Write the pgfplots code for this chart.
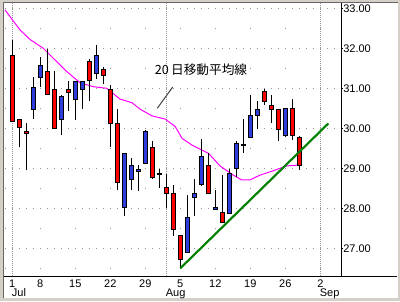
\documentclass[border=0pt]{standalone}
\usepackage{pgfplots}
\usepackage{pgfplotstable}
\pgfplotsset{compat=1.18}
\usepackage{fontspec}
\setmainfont{Liberation Sans}
\newfontfamily\jpfont{Noto Sans CJK JP}
\definecolor{framegray}{RGB}{212,208,200}
\definecolor{cred}{RGB}{255,0,0}
\definecolor{cblue}{RGB}{45,60,220}
\definecolor{cgreen}{RGB}{0,128,0}
\definecolor{cmag}{RGB}{255,0,255}
\definecolor{gridgray}{RGB}{150,150,150}

% red = falling day (open above close)
\pgfplotstableread{
i o h l c
0 31.81 32.21 30.18 30.18
1 30.21 30.21 29.52 30.02
2 29.92 30.12 28.97 29.86
5 31.42 31.97 30.82 30.85
6 30.97 31.42 30.00 30.00
8 30.97 31.18 30.42 30.89
11 31.67 31.74 30.67 31.19
13 31.47 31.53 31.10 31.32
14 30.97 31.09 29.52 30.12
15 30.12 30.48 28.47 28.65
20 29.52 29.68 28.74 28.77
22 28.52 28.87 28.02 28.37
23 28.37 28.58 27.31 27.47
24 27.31 27.31 26.50 26.71
28 29.08 29.38 28.37 28.37
30 27.90 28.84 27.65 27.65
36 30.92 30.97 30.57 30.67
37 30.57 30.82 30.14 30.47
38 30.47 30.47 29.67 29.97
40 30.50 30.72 29.70 29.82
41 29.77 29.81 28.97 29.07
}\redtab

% blue = rising day
\pgfplotstableread{
i o h l c
3 30.47 31.27 30.24 31.02
4 31.27 31.79 31.02 31.58
7 30.22 30.83 29.82 30.80
9 30.72 31.17 30.20 31.17
10 30.97 31.17 30.49 31.17
12 31.37 32.09 31.24 31.81
16 28.02 29.37 27.82 29.36
17 28.72 29.27 28.46 29.08
18 28.92 29.08 28.43 28.98
19 29.12 29.96 29.10 29.93
21 28.85 28.98 28.52 28.86
25 26.90 28.33 26.90 27.78
26 28.27 28.73 27.82 28.37
27 28.60 29.72 28.56 29.29
29 27.97 28.47 27.97 28.02
31 27.87 28.98 27.87 28.87
32 29.00 29.67 28.79 29.61
33 29.58 30.22 29.38 29.59
34 29.77 30.83 29.77 30.33
35 30.33 30.67 29.98 30.47
39 29.82 30.50 29.77 30.50
}\bluetab

% 20-day moving average
\pgfplotstableread{
i p
-1.04 32.96
1.10 32.46
2.53 32.22
4.43 32.00
5.86 31.75
7.77 31.42
9.67 31.14
11.57 31.04
13.49 31.00
15.39 30.73
17.10 30.64
18.24 30.48
19.96 30.31
21.86 30.23
23.29 30.04
24.24 29.75
25.67 29.58
28.06 29.37
29.67 29.06
31.57 28.83
32.77 28.71
33.96 28.71
35.39 28.83
37.29 28.94
39.20 29.06
40.86 29.08
}\matab

\pgfplotsset{
  candle/.style 2 args={draw=none, mark=none, forget plot,
    error bars/.cd, y dir=plus, y explicit, error mark=none,
    error bar style={draw=#1, solid, line width=#2}},
}

\begin{document}
\begin{tikzpicture}[x=0.75pt,y=0.75pt]
% axis box: (0,0) to (337,273) in px; image: (-4,-25) to (396,276)
\fill[framegray] (-4,-25) rectangle (396,276);
\fill[white] (-1,-22) rectangle (394,273);
\draw[black!60, line width=0.75pt] (-0.6,-22) -- (-0.6,273.6) -- (394,273.6);
\draw[black, line width=0.75pt] (337,0) -- (393,0);
\path[use as bounding box] (-4,-25) rectangle (396,276);
\begin{axis}[
  at={(0,0)}, anchor=south west,
  scale only axis, width=252.75pt, height=204.75pt,
  xmin=-1.186, xmax=46.957, ymin=26.3075, ymax=33.1325,
  axis x line*=bottom, axis y line*=right,
  axis line style={-, black, line width=0.75pt},
  font=\fontsize{8.25}{10}\selectfont,
  /pgf/number format/assume math mode=true,
  xtick={0,4,9,14,19,24,29,34,39,44},
  xticklabels={1,8,15,22,29,5,12,19,26,2},
  x tick style={draw=none},
  xticklabel style={inner sep=0pt, yshift=-1pt},
  extra x ticks={0,22,44},
  extra x tick labels={Jul,Aug,Sep},
  extra x tick style={
    xmajorgrids=true,
    major grid style={gridgray, line width=0.75pt, dash pattern=on 0.75pt off 0.75pt},
    tick label style={anchor=north west, inner sep=0pt, xshift=-0.5pt, yshift=-8.25pt},
    major tick length=0pt},
  ytick={27,28,29,30,31,32,33},
  yticklabels={27.00,28.00,29.00,30.00,31.00,32.00,33.00},
  minor ytick={26.5,27.5,28.5,29.5,30.5,31.5,32.5},
  y tick style={black, line width=0.75pt},
  tick align=outside, major tick length=1.5pt, minor tick length=0pt,
  ymajorgrids, yminorgrids,
  major grid style={gridgray, line width=0.75pt, dash pattern=on 0.75pt off 4.5pt, dash phase=4.65pt},
  minor grid style={gridgray, line width=0.75pt, dash pattern=on 0.75pt off 25.5pt, dash phase=25.65pt},
  yticklabel style={anchor=west, inner sep=0pt, xshift=0pt},
]
% 20-day moving average
\addplot[cmag, line width=0.75pt, mark=none] table[x=i, y=p] {\matab};
% wicks
\addplot[candle={black}{0.75pt}]
  table[x=i, y=l, y error expr=\thisrow{h}-\thisrow{l}] {\redtab};
\addplot[candle={black}{0.75pt}]
  table[x=i, y=l, y error expr=\thisrow{h}-\thisrow{l}] {\bluetab};
% bodies: black outline
\addplot[candle={black}{3.75pt}]
  table[x=i, y expr={min(\thisrow{o},\thisrow{c})-0.0125}, y error expr={abs(\thisrow{o}-\thisrow{c})+0.025}] {\redtab};
\addplot[candle={black}{3.75pt}]
  table[x=i, y expr={min(\thisrow{o},\thisrow{c})-0.0125}, y error expr={abs(\thisrow{o}-\thisrow{c})+0.025}] {\bluetab};
% bodies: fill
\addplot[candle={cred}{2.25pt}]
  table[x=i, y expr={min(\thisrow{o},\thisrow{c})+0.0125}, y error expr={max(abs(\thisrow{o}-\thisrow{c})-0.025,0)}] {\redtab};
\addplot[candle={cblue}{2.25pt}]
  table[x=i, y expr={min(\thisrow{o},\thisrow{c})+0.0125}, y error expr={max(abs(\thisrow{o}-\thisrow{c})-0.025,0)}] {\bluetab};
% support trend line
\addplot[cgreen, line width=1.6pt, mark=none] coordinates {(24,26.50) (45.14,30.12)};
% annotation
\draw[black!75, line width=0.75pt] (axis cs:20.71,30.50) -- (axis cs:22.91,31.03);
\node[font=\jpfont\fontsize{9.5}{11}\selectfont, text=black] at (axis cs:26.96,31.46) {20\,日移動平均線};
\end{axis}
\end{tikzpicture}
\end{document}
